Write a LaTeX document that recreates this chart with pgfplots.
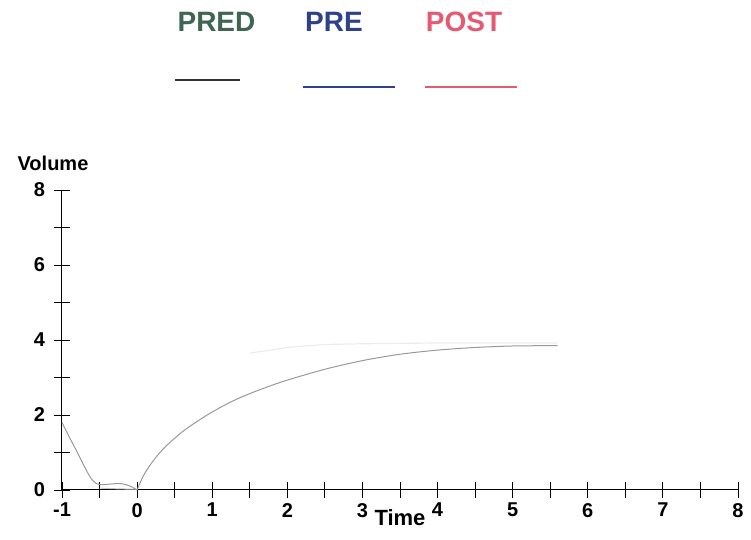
\documentclass[border=0pt]{standalone}
\usepackage{pgfplots}
\pgfplotsset{compat=1.18}
\usepackage{fontspec}
\setmainfont{Liberation Sans}
\definecolor{predc}{HTML}{3F6650}
\definecolor{prec}{HTML}{2F4189}
\definecolor{postc}{HTML}{E55A72}
\begin{document}
\begin{tikzpicture}
\useasboundingbox (0,0) rectangle (375.5pt,270pt);
% legend (text above, line below)
\node[font=\bfseries\fontsize{14}{16}\selectfont, text=predc] at (108.25pt,259pt) {PRED};
\node[font=\bfseries\fontsize{14}{16}\selectfont, text=prec] at (167pt,259pt) {PRE};
\node[font=\bfseries\fontsize{14}{16}\selectfont, text=postc] at (232pt,259pt) {POST};
\draw[line width=1pt, black!80] (87.5pt,230pt) -- (120pt,230pt);
\draw[line width=1.2pt, prec] (151.5pt,226.5pt) -- (197.5pt,226.5pt);
\draw[line width=1.2pt, postc] (212.5pt,226.5pt) -- (258.5pt,226.5pt);
\node[font=\bfseries\fontsize{10}{12}\selectfont] at (26.5pt,188.5pt) {Volume};
\begin{axis}[
    at={(31pt,25pt)}, anchor=south west,
    scale only axis,
    width=338pt, height=150pt,
    xmin=-1, xmax=8, ymin=0, ymax=8,
    axis lines*=left,
    axis line style={line width=0.5pt},
    xtick={-1,0,...,8},
    ytick={0,2,4,6,8},
    minor x tick num=1,
    minor y tick num=1,
    tick align=center,
    major tick length=8pt,
    minor tick length=8pt,
    tick style={black, line width=0.4pt},
    /pgf/number format/assume math mode=true,
    ticklabel style={font=\bfseries\fontsize{10}{12}\selectfont},
    xticklabel style={yshift=1pt},
    yticklabel style={xshift=-1pt},
    xlabel={Time},
    xlabel style={at={(axis description cs:0.5,0)}, anchor=north, yshift=-6pt, font=\bfseries\fontsize{11}{13}\selectfont},
    clip=false,
]
% faint ghost trace
\addplot[color=gray!15, line width=0.6pt] coordinates {
    (1.5,3.65)(2,3.8)(2.5,3.88)(3,3.9)(4,3.92)(5,3.92)(5.6,3.92)
};
\addplot[color=gray!45, line width=0.5pt] coordinates {
    (-0.5,0.05)(-0.25,0.03)(0,0.02)
};
\addplot[color=gray!80, line width=0.5pt, smooth] coordinates {
    (-1,1.8)(-0.9,1.4)(-0.8,1.02)(-0.7,0.62)(-0.62,0.33)(-0.55,0.18)(-0.47,0.14)
    (-0.35,0.16)(-0.22,0.17)(-0.1,0.11)(0,0)
};
\addplot[color=gray!80, line width=0.5pt, smooth] coordinates {
    (0,0)(0.05,0.24)(0.1,0.44)(0.2,0.74)(0.3,0.99)(0.4,1.2)(0.6,1.55)(0.8,1.83)(1,2.08)(1.25,2.35)
    (1.5,2.57)(1.75,2.76)(2,2.93)(2.5,3.22)(3,3.45)(3.5,3.62)(4,3.73)(4.5,3.8)
    (5,3.84)(5.6,3.85)
};
\end{axis}
\end{tikzpicture}
\end{document}
